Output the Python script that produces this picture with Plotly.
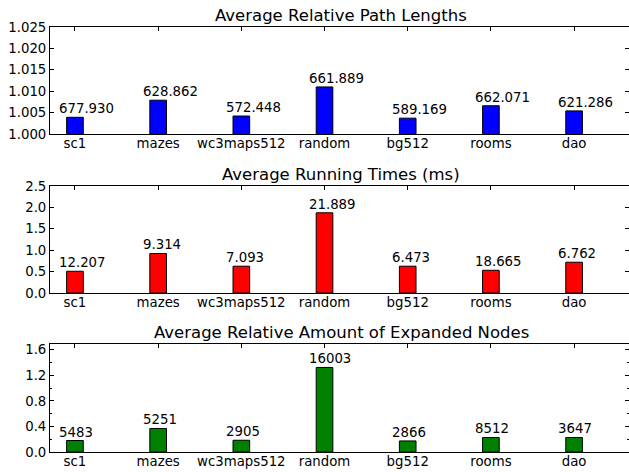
import plotly.graph_objects as go

categories = ["sc1", "mazes", "wc3maps512", "random", "bg512", "rooms", "dao"]
path_len = [1.0039, 1.0079, 1.0042, 1.0110, 1.0037, 1.0066, 1.0054]
path_labels = ["677.930", "628.862", "572.448", "661.889", "589.169", "662.071", "621.286"]
run_time = [0.508, 0.923, 0.626, 1.874, 0.626, 0.531, 0.719]
run_labels = ["12.207", "9.314", "7.093", "21.889", "6.473", "18.665", "6.762"]
expanded = [0.180, 0.368, 0.184, 1.323, 0.173, 0.227, 0.227]
exp_labels = ["5483", "5251", "2905", "16003", "2866", "8512", "3647"]

titles = ["Average Relative Path Lengths", "Average Running Times (ms)",
          "Average Relative Amount of Expanded Nodes"]
colors = ["#0000ff", "#ff0000", "#008000"]
yranges = [[1.0, 1.025], [0.0, 2.5], [0.0, 1.69]]
ytickvals = [[1.0, 1.005, 1.01, 1.015, 1.02, 1.025],
             [0.0, 0.5, 1.0, 1.5, 2.0, 2.5],
             [0.0, 0.4, 0.8, 1.2, 1.6]]
yfmt = [".3f", ".1f", ".1f"]

W, H = 629, 472
BAR_W = 0.2
panels_px = [(27, 134), (186, 293), (344, 452)]  # top, bottom in px
xpos = list(range(len(categories)))
FONT = "DejaVu Sans"

fig = go.Figure()
annotations = []
x_dom = [50 / W, 1.0]

for i in range(3):
    n = i + 1
    xa = "x" if n == 1 else f"x{n}"
    ya = "y" if n == 1 else f"y{n}"
    yo = f"y{n + 3}"
    top, bot = panels_px[i]
    dom = [(H - bot) / H, (H - top) / H]
    vals = [path_len, run_time, expanded][i]
    labs = [path_labels, run_labels, exp_labels][i]
    fig.add_trace(go.Bar(x=xpos, y=vals, width=BAR_W,
                         marker=dict(color=colors[i], line=dict(color="black", width=1)),
                         xaxis=xa, yaxis=ya, showlegend=False, hoverinfo="skip"))
    fig.add_trace(go.Scatter(x=[], y=[], xaxis=xa, yaxis=yo, showlegend=False, hoverinfo="skip"))
    for xv, yv, t in zip(xpos, vals, labs):
        # label left-aligned at (bar left edge - half bar width), as in the original
        annotations.append(dict(x=xv - BAR_W, y=yv, xref=xa, yref=ya, text=t, showarrow=False,
                                yanchor="bottom", xanchor="left", yshift=-1, xshift=-1,
                                font=dict(family=FONT, size=13.3, color="black")))
    annotations.append(dict(x=341 / W, y=dom[1], xref="paper", yref="paper", text=titles[i],
                            showarrow=False, yanchor="bottom", xanchor="center", yshift=0,
                            font=dict(family=FONT, size=16.5, color="black")))
    xkey = "xaxis" if n == 1 else f"xaxis{n}"
    ykey = "yaxis" if n == 1 else f"yaxis{n}"
    minor = dict(dtick=0.2, ticks="inside", ticklen=2, tickcolor="black") if i == 2 else None
    fig.update_layout(**{
        xkey: dict(domain=x_dom, anchor=ya, range=[-0.3, 6.66], tickvals=xpos, ticktext=categories,
                   ticks="inside", ticklen=4, tickcolor="black", showline=True, linecolor="black",
                   linewidth=1, mirror="ticks", showgrid=False, zeroline=False, layer="below traces",
                   ticklabelstandoff=-3,
                   tickfont=dict(family=FONT, size=13.3, color="black"), automargin=False, fixedrange=True),
        ykey: dict(domain=dom, anchor=xa, range=yranges[i], tickvals=ytickvals[i], tickformat=yfmt[i],
                   ticks="inside", ticklen=4, tickcolor="black", showline=True, linecolor="black",
                   linewidth=1, showgrid=False, zeroline=False,
                   tickfont=dict(family=FONT, size=13.3, color="black"), automargin=False,
                   **({"minor": minor} if minor else {})),
        f"yaxis{n + 3}": dict(overlaying=ya, anchor=xa, side="right", range=yranges[i], tickvals=ytickvals[i],
                              ticks="inside", ticklen=4, tickcolor="black", showline=False,
                              showticklabels=False, showgrid=False, zeroline=False,
                              **({"minor": minor} if minor else {})),
    })

fig.update_layout(width=W, height=H, margin=dict(l=0, r=0, t=0, b=0),
                  paper_bgcolor="white", plot_bgcolor="white", annotations=annotations,
                  bargap=0, font=dict(family=FONT, color="black"))
fig.write_html("out.html", config={"displayModeBar": False, "staticPlot": True},
               post_script="document.body.style.margin='0';document.body.style.overflow='hidden';")
